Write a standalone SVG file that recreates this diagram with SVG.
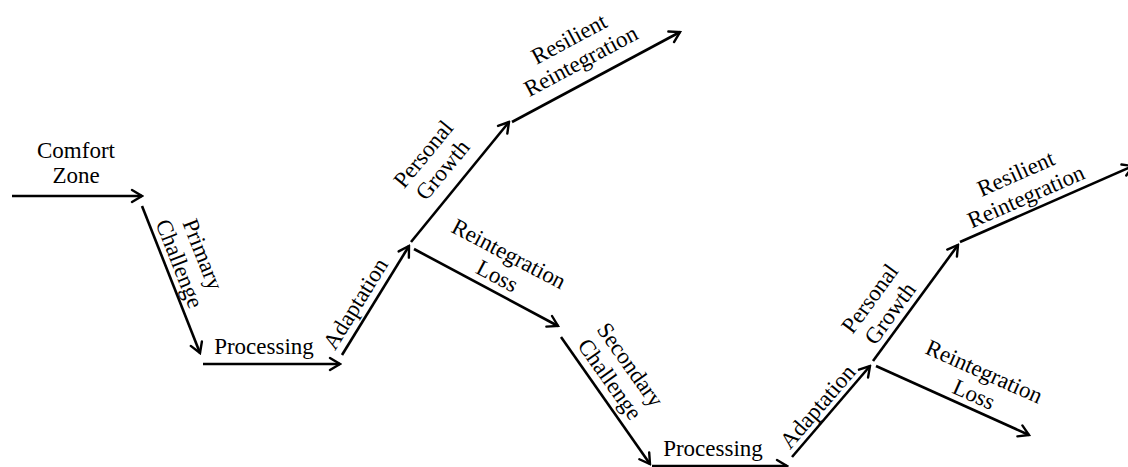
<svg xmlns="http://www.w3.org/2000/svg" width="1128" height="467" viewBox="0 0 1128 467">
<defs>
<marker id="ah" markerUnits="userSpaceOnUse" markerWidth="16" markerHeight="16" viewBox="-14 -8 16 16" refX="0" refY="0" orient="auto">
<path d="M-10,-6 L0,0 L-10,6" fill="none" stroke="#000" stroke-width="2.4" stroke-linecap="round" stroke-linejoin="miter"/>
</marker>
</defs>
<style>
.c line{stroke:#000;stroke-width:2.6;marker-end:url(#ah)}
text{font-family:"Liberation Serif","Times New Roman",serif;font-size:23px;fill:#000;text-anchor:middle}
</style>
<rect width="1128" height="467" fill="#fff"/>
<g class="c" id="connectors">
<line x1="12" y1="196" x2="142" y2="196"/>
<line x1="142" y1="206" x2="200" y2="353"/>
<line x1="203" y1="364" x2="340" y2="364"/>
<line x1="342" y1="355" x2="409" y2="246"/>
<line x1="411" y1="242" x2="509" y2="122"/>
<line x1="512" y1="122" x2="680" y2="32"/>
<line x1="414" y1="249" x2="558" y2="326"/>
<line x1="561" y1="337" x2="650" y2="464"/>
<line x1="652" y1="466" x2="787" y2="466"/>
<line x1="792" y1="457" x2="870" y2="366"/>
<line x1="873" y1="361" x2="958" y2="245"/>
<line x1="960" y1="242" x2="1133" y2="166"/>
<line x1="876" y1="366" x2="1029" y2="435"/>
</g>
<g id="comfort-zone"><text transform="translate(76,170)"><tspan x="0" y="-12">Comfort</tspan><tspan x="0" y="13">Zone</tspan></text></g>
<g id="primary-challenge"><text transform="translate(191,259) rotate(68.6)"><tspan x="0" y="-5">Primary</tspan><tspan x="0" y="20">Challenge</tspan></text></g>
<g id="processing-1"><text x="264" y="354">Processing</text></g>
<g id="adaptation-1"><text transform="translate(356,304) rotate(-58.3)"><tspan x="0" y="7">Adaptation</tspan></text></g>
<g id="personal-growth-1"><text transform="translate(433,162) rotate(-50.5)"><tspan x="0" y="-5">Personal</tspan><tspan x="0" y="20">Growth</tspan></text></g>
<g id="resilient-reintegration-1"><text transform="translate(575,50) rotate(-28.2)"><tspan x="0" y="-5">Resilient</tspan><tspan x="0" y="20">Reintegration</tspan></text></g>
<g id="reintegration-loss-1"><text transform="translate(503,265) rotate(27.7)"><tspan x="0" y="-5">Reintegration</tspan><tspan x="0" y="20">Loss</tspan></text></g>
<g id="secondary-challenge"><text transform="translate(620,372) rotate(54.7)"><tspan x="0" y="-5">Secondary</tspan><tspan x="0" y="20">Challenge</tspan></text></g>
<g id="processing-2"><text x="713" y="456">Processing</text></g>
<g id="adaptation-2"><text transform="translate(818,407) rotate(-49.3)"><tspan x="0" y="7">Adaptation</tspan></text></g>
<g id="personal-growth-2"><text transform="translate(880,306) rotate(-53.8)"><tspan x="0" y="-5">Personal</tspan><tspan x="0" y="20">Growth</tspan></text></g>
<g id="resilient-reintegration-2"><text transform="translate(1021,185) rotate(-23.8)"><tspan x="0" y="-5">Resilient</tspan><tspan x="0" y="20">Reintegration</tspan></text></g>
<g id="reintegration-loss-2"><text transform="translate(979,383) rotate(24.1)"><tspan x="0" y="-5">Reintegration</tspan><tspan x="0" y="20">Loss</tspan></text></g>
</svg>
